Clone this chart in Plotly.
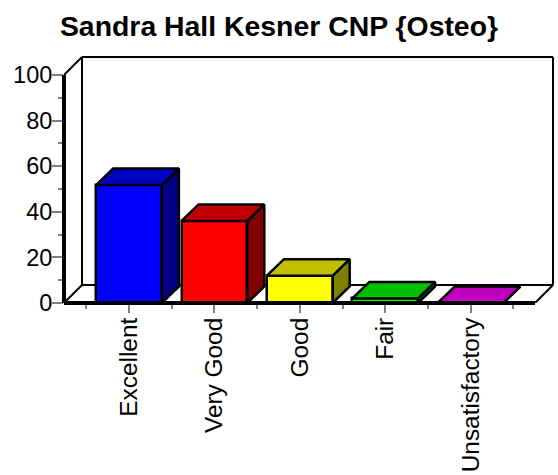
import plotly.graph_objects as go

categories = ["Excellent", "Very Good", "Good", "Fair", "Unsatisfactory"]
values = [51.7, 36, 12, 2, 0]
front_colors = ["#0000ff", "#ff0000", "#ffff00", "#00ff00", "#ff00ff"]
top_colors = ["#0000c0", "#c00000", "#c0c000", "#00c000", "#c000c0"]
side_colors = ["#000080", "#800000", "#808000", "#008000", "#800080"]
y_major = [0, 20, 40, 60, 80, 100]
y_minor = [10, 30, 50, 70, 90]
x_minor = [-0.5, 0.5, 1.5, 2.5, 3.5, 4.5]

W, H = 558, 475
PX_L, PX_R, PX_T, PX_B = 64, 556, 50, 303
PX_PER_X, PX_PER_Y = 85.4, 2.28
X0_PX = 129
x_lo = (PX_L - X0_PX) / PX_PER_X
x_hi = (PX_R - X0_PX) / PX_PER_X
y_hi = (PX_B - PX_T) / PX_PER_Y
DX, DY = 18 / PX_PER_X, 18 / PX_PER_Y
BAR_DX, BAR_DY = 17 / PX_PER_X, 16.5 / PX_PER_Y
BAR_W = 0.77
X_FRONT_END = (535 - X0_PX) / PX_PER_X
Y_TOP = 100
FONT = "Liberation Sans"
EDGE = 2.5

fig = go.Figure()
fig.add_trace(go.Bar(
    x=list(range(len(categories))), y=values, width=BAR_W,
    marker=dict(color=front_colors, line=dict(color="black", width=EDGE)),
    cliponaxis=False, hoverinfo="skip", showlegend=False,
))

for i, v in enumerate(values):
    l, r = i - BAR_W / 2, i + BAR_W / 2
    if v > 0:
        fig.add_trace(go.Scatter(
            x=[r, r + BAR_DX, r + BAR_DX, r, r], y=[0, BAR_DY, v + BAR_DY, v, 0],
            mode="lines", fill="toself", fillcolor=side_colors[i],
            line=dict(color="black", width=EDGE), cliponaxis=False,
            hoverinfo="skip", showlegend=False))
    fig.add_trace(go.Scatter(
        x=[l, l + BAR_DX, r + BAR_DX, r, l], y=[v, v + BAR_DY, v + BAR_DY, v, v],
        mode="lines", fill="toself", fillcolor=top_colors[i],
        line=dict(color="black", width=EDGE), cliponaxis=False,
        hoverinfo="skip", showlegend=False))

# walls and floor, behind the bars
wall = dict(type="line", xref="x", yref="y", layer="below",
            line=dict(color="black", width=2))
xb0, xb1 = x_lo + DX, X_FRONT_END + DX
for (a, b, c, d) in [
    (x_lo, Y_TOP, xb0, Y_TOP + DY),
    (xb0, Y_TOP + DY, xb1, Y_TOP + DY),
    (xb0, Y_TOP + DY, xb0, DY),
    (xb1, Y_TOP + DY, xb1, DY),
    (xb0, DY, xb1, DY),
    (x_lo, 0, xb0, DY),
    (X_FRONT_END, 0, xb1, DY),
]:
    fig.add_shape(x0=a, y0=b, x1=c, y1=d, **wall)

# heavy front axes, above the bars and not clipped across the axis
fig.add_shape(type="line", xref="paper", yref="y", x0=0, x1=0, y0=0, y1=Y_TOP,
              layer="above", line=dict(color="black", width=4))
fig.add_shape(type="line", xref="x", yref="paper", x0=x_lo, x1=X_FRONT_END, y0=0, y1=0,
              layer="above", line=dict(color="black", width=4))

fig.update_layout(
    width=W, height=H, autosize=False,
    margin=dict(l=PX_L, r=W - PX_R, t=PX_T, b=H - PX_B, pad=0),
    paper_bgcolor="white", plot_bgcolor="white",
    font=dict(family=FONT, color="black", size=23.5),
    title=dict(text="<b>Sandra Hall Kesner CNP {Osteo}</b>", x=279 / W, xanchor="center",
               y=1 - 26 / H, yanchor="middle", font=dict(family=FONT, size=28.4)),
    xaxis=dict(range=[x_lo, x_hi], tickmode="array", tickvals=list(range(len(categories))),
               ticktext=categories, tickangle=-90, ticks="outside", ticklen=9, tickwidth=2,
               tickcolor="#808080", showgrid=False, zeroline=False, showline=False,
               ticklabelstandoff=-5, tickfont=dict(family=FONT, size=24.4),
               minor=dict(tickmode="array", tickvals=x_minor, ticks="outside", ticklen=5,
                          tickwidth=2, tickcolor="#808080", showgrid=False)),
    yaxis=dict(range=[0, y_hi], tickmode="array", tickvals=y_major, ticks="outside",
               ticklen=11, tickwidth=2, tickcolor="#808080", showgrid=False,
               zeroline=False, showline=False, ticklabelstandoff=-5,
               minor=dict(tickmode="array", tickvals=y_minor, ticks="outside", ticklen=5,
                          tickwidth=2, tickcolor="#808080", showgrid=False)),
    bargap=0,
)
fig.write_html(
    "out.html", config={"displayModeBar": False},
    post_script="document.body.style.margin='0';document.documentElement.style.overflow='hidden';",
)
